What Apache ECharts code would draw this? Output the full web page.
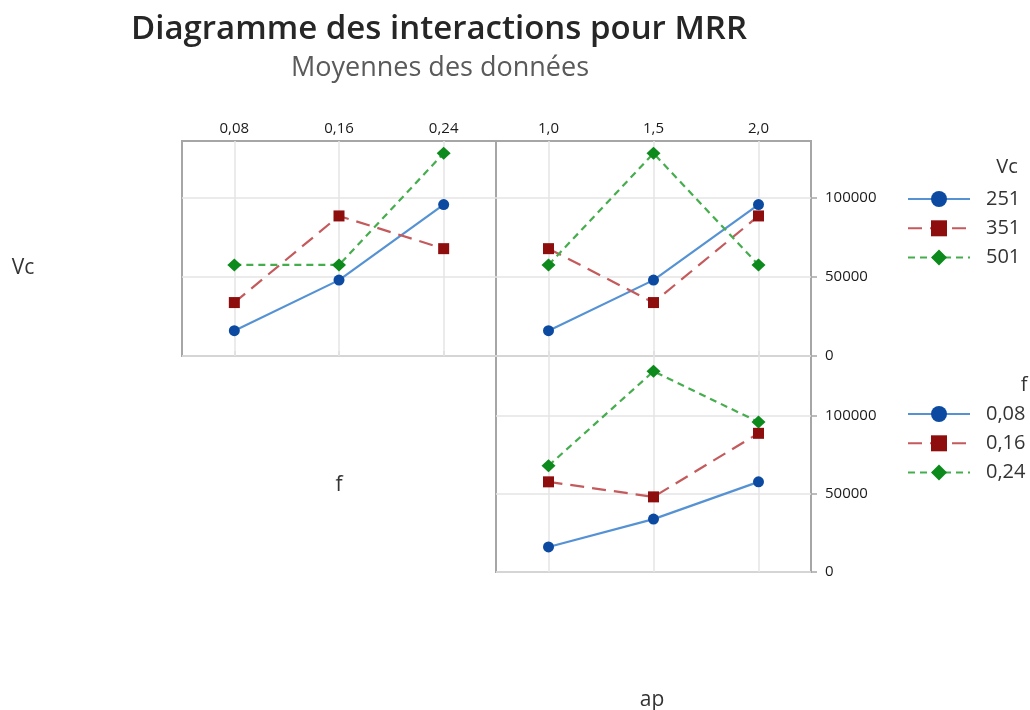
<!DOCTYPE html>
<html>
<head>
<meta charset="utf-8">
<script src="https://cdn.jsdelivr.net/npm/echarts@6/dist/echarts.min.js"></script>
<style>
  html, body { margin: 0; padding: 0; background: #fff; }
  #chart { width: 1030px; height: 710px; }
</style>
</head>
<body>
<div id="chart"></div>
<script>
// Factor levels
const vcLevels = ['251', '351', '501'];
const fLevels = ['0,08', '0,16', '0,24'];
const apLevels = ['1,0', '1,5', '2,0'];

// Mean MRR, Vc x f (one series per Vc level, over f)
const vcF251 = [16000, 48000, 95800];
const vcF351 = [33800, 88600, 67900];
const vcF501 = [57600, 57600, 128200];

// Mean MRR, Vc x ap (one series per Vc level, over ap)
const vcAp251 = [16000, 48000, 95800];
const vcAp351 = [67900, 33800, 88600];
const vcAp501 = [57600, 128200, 57600];

// Mean MRR, f x ap (one series per f level, over ap)
const fAp008 = [16000, 33800, 57600];
const fAp016 = [57600, 48000, 88600];
const fAp024 = [67900, 128200, 95800];

// Value axis ticks
const yTicks = [0, 50000, 100000];

const FONT = '"Open Sans", "Noto Sans", sans-serif';
const FRAME = '#a6a6a6';
const GRIDLINE = '#e4e4e4';

const styles = [
  { line: '#5592d4', item: '#0b4aa0', type: 'solid', symbol: 'circle', size: 11 },
  { line: '#c45a5c', item: '#8e0d0d', type: [14, 8], symbol: 'rect', size: 11 },
  { line: '#45ad4d', item: '#0d8a1c', type: [7, 5], symbol: 'diamond', size: [14, 13] }
];

function lineSeries(name, gi, data, st, cats) {
  const s = {
    type: 'line',
    name: name,
    xAxisIndex: gi,
    yAxisIndex: gi,
    data: data,
    symbol: st.symbol,
    symbolSize: st.size,
    showSymbol: true,
    z: 3,
    lineStyle: { color: st.line, width: 2.2, type: st.type },
    itemStyle: { color: st.item },
    emphasis: { disabled: true },
    animation: false
  };
  if (cats) {
    // vertical grid lines at each category
    s.markLine = {
      silent: true,
      symbol: ['none', 'none'],
      z: 1,
      label: { show: false },
      lineStyle: { color: GRIDLINE, width: 1.5, type: 'solid' },
      data: cats.map(c => ({ xAxis: c })),
      animation: false
    };
  }
  return s;
}

function xAxisDef(gi, cats, showLabels) {
  return {
    type: 'category',
    gridIndex: gi,
    data: cats,
    position: 'top',
    boundaryGap: true,
    axisLine: { show: false },
    axisTick: { show: showLabels, alignWithLabel: true, length: 5, lineStyle: { color: '#cfcfcf', width: 1.5 } },
    axisLabel: { show: showLabels, fontFamily: FONT, fontSize: 15, color: '#1a1a1a', margin: 5 },
    splitLine: { show: false }
  };
}

function yAxisDef(gi, max, showLabels) {
  return {
    type: 'value',
    gridIndex: gi,
    position: 'right',
    min: 0,
    max: max,
    interval: 50000,
    axisLine: { show: false },
    axisTick: { show: showLabels, length: 6, customValues: yTicks, lineStyle: { color: FRAME, width: 1.5 } },
    axisLabel: {
      show: showLabels, customValues: yTicks, fontFamily: FONT, fontSize: 15, color: '#1a1a1a', margin: 14,
      formatter: v => String(v)
    },
    splitLine: { show: true, lineStyle: { color: GRIDLINE, width: 1.5 } }
  };
}

const gridBase = { show: true, borderColor: FRAME, borderWidth: 2, backgroundColor: 'transparent' };

const textEl = (x, y, txt, size, color, weight) => ({
  type: 'text', x: x, y: y, silent: true,
  style: { text: txt, fontFamily: FONT, fontSize: size, fontWeight: weight || 'normal', fill: color, align: 'center', verticalAlign: 'middle' }
});

const legendBase = {
  orient: 'vertical', left: 902,
  itemWidth: 62, itemHeight: 20, itemGap: 9.3, selectedMode: false,
  textStyle: { fontFamily: FONT, fontSize: 20, color: '#333', padding: [0, 0, 0, 11] }
};

const option = {
  backgroundColor: '#ffffff',
  animation: false,
  grid: [
    Object.assign({ left: 182, top: 141, width: 314, height: 215 }, gridBase),
    Object.assign({ left: 496, top: 141, width: 315, height: 215 }, gridBase),
    Object.assign({ left: 496, top: 356, width: 315, height: 216 }, gridBase)
  ],
  xAxis: [
    xAxisDef(0, fLevels, true),
    xAxisDef(1, apLevels, true),
    xAxisDef(2, apLevels, false)
  ],
  yAxis: [
    yAxisDef(0, 136000, false),
    yAxisDef(1, 136000, true),
    yAxisDef(2, 138000, true)
  ],
  legend: [
    Object.assign({ data: vcLevels, top: 184 }, legendBase),
    Object.assign({ data: fLevels, top: 399 }, legendBase)
  ],
  graphic: [
    textEl(439, 30, 'Diagramme des interactions pour MRR', 33, '#262626', 600),
    textEl(440, 68, 'Moyennes des données', 27, '#5a5a5a'),
    textEl(23, 268, 'Vc', 21, '#333'),
    textEl(339, 485, 'f', 21, '#333'),
    textEl(652, 700, 'ap', 21, '#333'),
    textEl(1007, 167, 'Vc', 20, '#333'),
    textEl(1024, 385, 'f', 20, '#333')
  ],
  series: [
    lineSeries(vcLevels[0], 0, vcF251, styles[0], fLevels),
    lineSeries(vcLevels[1], 0, vcF351, styles[1]),
    lineSeries(vcLevels[2], 0, vcF501, styles[2]),
    lineSeries(vcLevels[0], 1, vcAp251, styles[0], apLevels),
    lineSeries(vcLevels[1], 1, vcAp351, styles[1]),
    lineSeries(vcLevels[2], 1, vcAp501, styles[2]),
    lineSeries(fLevels[0], 2, fAp008, styles[0], apLevels),
    lineSeries(fLevels[1], 2, fAp016, styles[1]),
    lineSeries(fLevels[2], 2, fAp024, styles[2])
  ]
};

const chart = echarts.init(document.getElementById('chart'), null, { renderer: 'canvas' });
chart.setOption(option);
</script>
</body>
</html>
